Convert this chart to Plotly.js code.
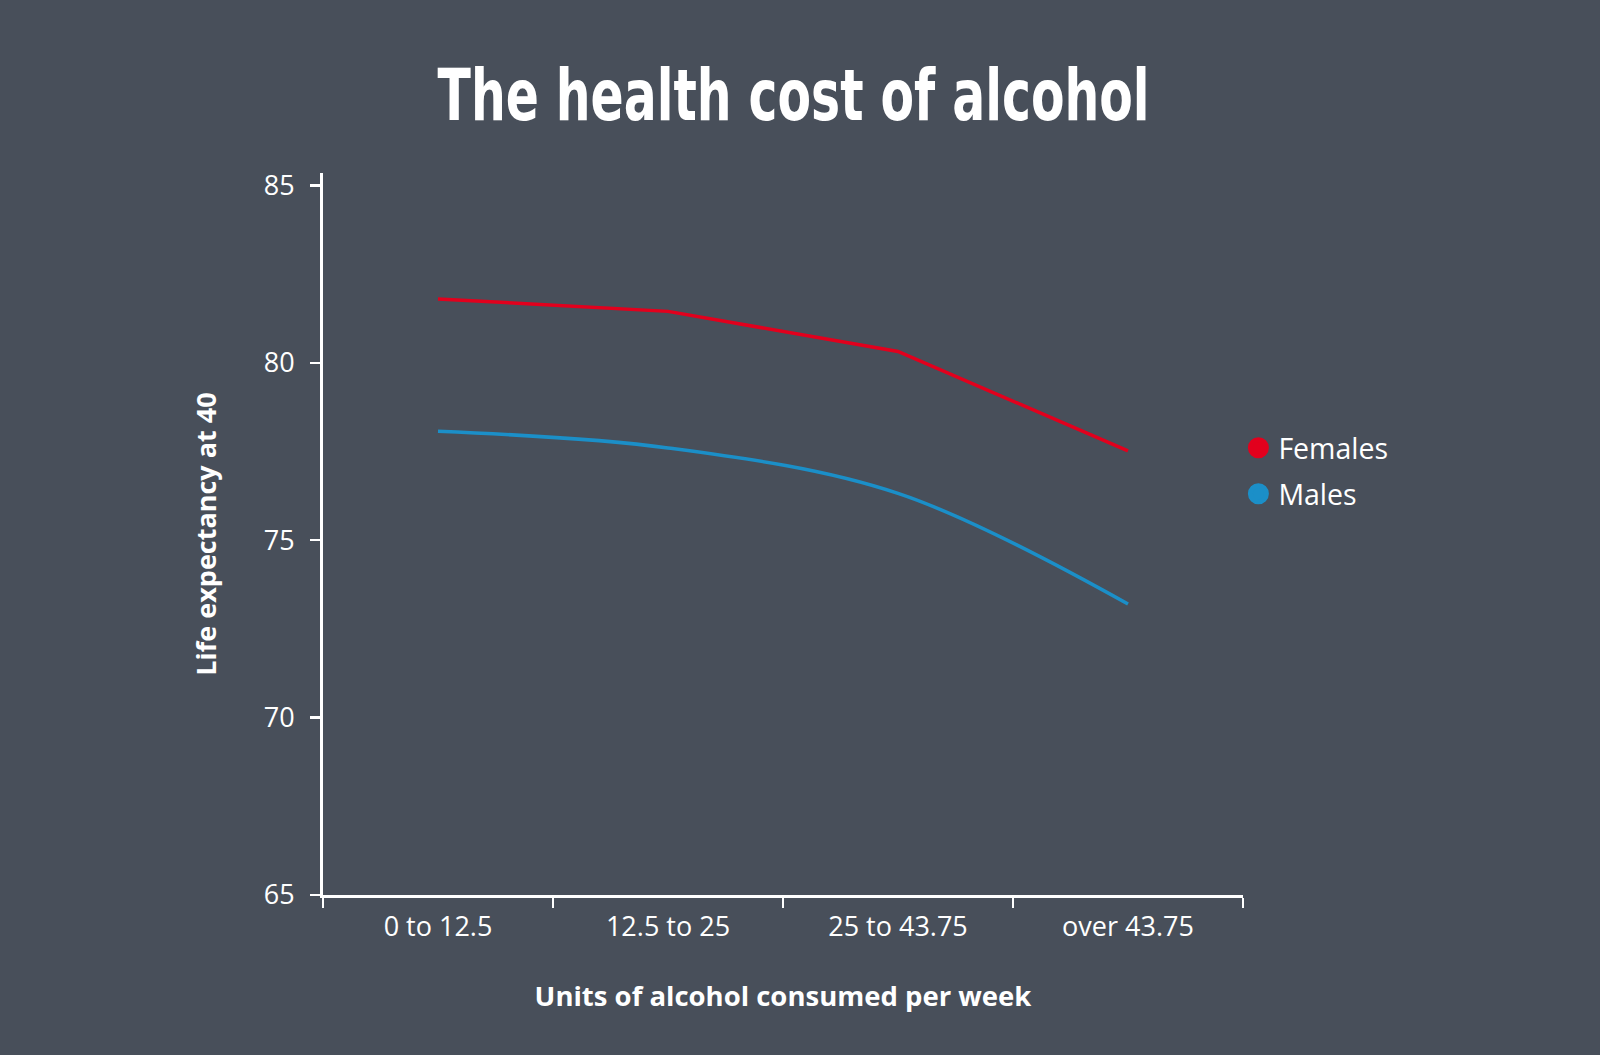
<!DOCTYPE html>
<html>
<head>
<meta charset="utf-8">
<script src="https://cdn.plot.ly/plotly-3.0.1.min.js"></script>
<style>
  html, body { margin: 0; padding: 0; background: #484f5a; }
  #chart { width: 1600px; height: 1055px; }
</style>
</head>
<body>
<div id="chart"></div>
<script>
// values
let categories = ["0 to 12.5", "12.5 to 25", "25 to 43.75", "over 43.75"]
let females = [81.8, 81.45, 80.32, 77.52]
let males = [78.07, 77.6, 76.32, 73.2]
let seriesNames = ["Females", "Males"]
let seriesColors = ["#e2001d", "#1b8fc8"]
let yTicks = [65, 70, 75, 80, 85]

let bg = "#484f5a"
let textFont = "Open Sans, Noto Sans, sans-serif"

let traces = [
  {
    x: categories, y: females, type: "scatter", mode: "lines",
    line: { color: seriesColors[0], width: 3.5, shape: "linear" },
    legendgroup: "f", showlegend: false, hoverinfo: "skip"
  },
  {
    x: categories, y: males, type: "scatter", mode: "lines",
    line: { color: seriesColors[1], width: 3.5, shape: "spline", smoothing: 1 },
    legendgroup: "m", showlegend: false, hoverinfo: "skip"
  },
  // legend entries only (round swatches like the original)
  {
    x: [null], y: [null], type: "scatter", mode: "markers", name: seriesNames[0],
    marker: { color: seriesColors[0], size: 16, line: { color: seriesColors[0], width: 5 } },
    legendgroup: "f"
  },
  {
    x: [null], y: [null], type: "scatter", mode: "markers", name: seriesNames[1],
    marker: { color: seriesColors[1], size: 16, line: { color: seriesColors[1], width: 5 } },
    legendgroup: "m"
  }
]

let layout = {
  width: 1600, height: 1055,
  paper_bgcolor: bg, plot_bgcolor: bg,
  margin: { l: 323, r: 357, t: 173, b: 160 },
  font: { family: textFont, color: "#ffffff", size: 22 },
  title: {
    text: "The health cost of alcohol",
    font: { family: "DejaVu Sans, sans-serif", size: 72, color: "#ffffff", weight: "bold" },
    xref: "container", yref: "container",
    x: 0.496, xanchor: "center", y: 0.91, yanchor: "middle"
  },
  xaxis: {
    type: "category",
    range: [-0.5, 3.5],
    showline: true, linecolor: "#ffffff", linewidth: 3,
    ticks: "outside", tickson: "boundaries", ticklen: 10, tickwidth: 2.5, tickcolor: "#ffffff",
    showgrid: false, zeroline: false,
    tickfont: { family: textFont, size: 27, color: "#ffffff" },
    ticklabelstandoff: 6,
    title: {
      text: "Units of alcohol consumed per week",
      font: { family: textFont, size: 27.5, color: "#ffffff", weight: "bold" },
      standoff: 44
    }
  },
  yaxis: {
    range: [65, 85.35],
    tickvals: yTicks,
    showline: true, linecolor: "#ffffff", linewidth: 3,
    ticks: "outside", ticklen: 10, tickwidth: 2.5, tickcolor: "#ffffff",
    showgrid: false, zeroline: false,
    tickfont: { family: textFont, size: 27, color: "#ffffff" },
    ticklabelstandoff: 10,
    title: {
      text: "Life expectancy at 40",
      font: { family: textFont, size: 27, color: "#ffffff", weight: "bold" },
      standoff: 40
    }
  },
  showlegend: true,
  legend: {
    x: 0.995, xanchor: "left", y: 0.587, yanchor: "middle",
    bgcolor: "rgba(0,0,0,0)",
    font: { family: textFont, size: 28.5, color: "#ffffff" },
    tracegroupgap: 6,
    itemclick: false, itemdoubleclick: false
  }
}

Plotly.newPlot("chart", traces, layout, { displayModeBar: false, staticPlot: true }).then(function (gd) {
  // the original headline is set in a heavy condensed face; squeeze ours to the same width
  let t = gd.querySelector(".gtitle")
  if (t) {
    t.setAttribute("textLength", 712)
    t.setAttribute("lengthAdjust", "spacingAndGlyphs")
  }
})
</script>
</body>
</html>
